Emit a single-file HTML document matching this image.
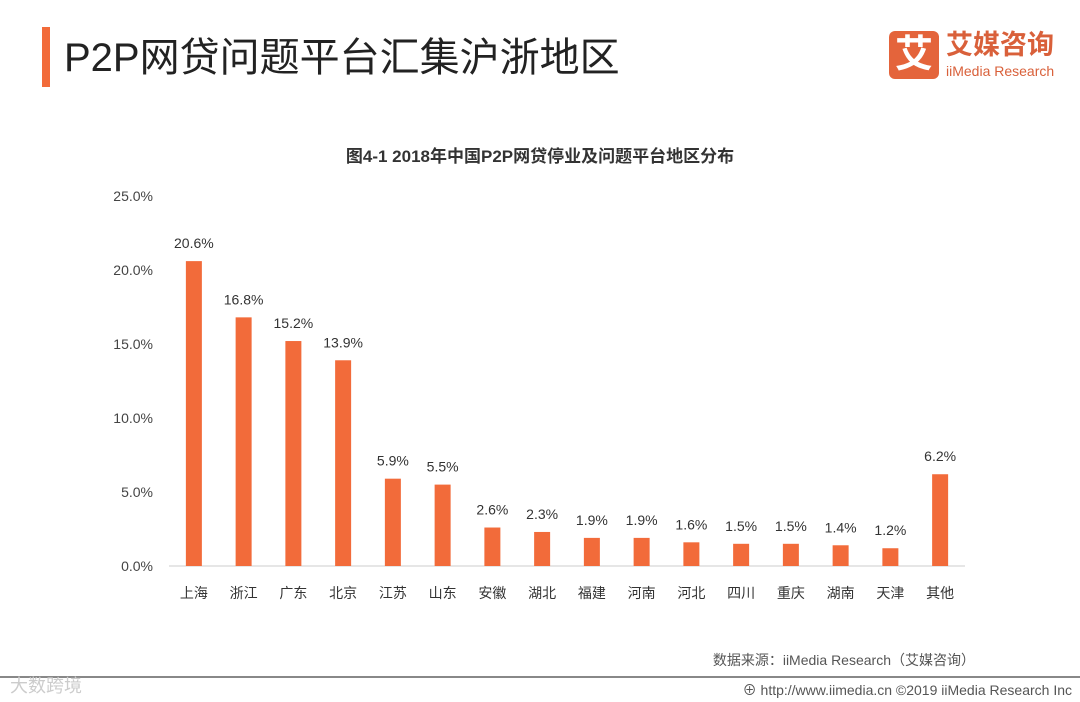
<!DOCTYPE html>
<html><head><meta charset="utf-8"><style>
body{margin:0;width:1080px;height:702px;background:#fff;overflow:hidden;position:relative;font-family:"Liberation Sans","Noto Sans CJK SC",sans-serif}
.abs{position:absolute}
</style></head><body>
<div class="abs" style="left:42px;top:27px;width:8px;height:60px;background:#f26b3a"></div>
<div class="abs" style="left:64px;top:30px;font-size:40px;color:#222;line-height:56px">P2P网贷问题平台汇集沪浙地区</div>
<div class="abs" style="left:889px;top:31px;width:50px;height:48px;background:#e4643b;border-radius:6px;color:#fff;font-size:38px;line-height:48px;text-align:center;font-weight:bold">艾</div>
<div class="abs" style="left:946px;top:28px;font-size:27px;color:#d9603a;font-weight:bold;line-height:34px">艾媒咨询</div>
<div class="abs" style="left:946px;top:62px;font-size:14px;color:#d9603a;line-height:18px">iiMedia Research</div>
<svg class="abs" style="left:0;top:0" width="1080" height="702">
<text x="540" y="162" text-anchor="middle" font-size="17" font-weight="bold" fill="#333">图4-1 2018年中国P2P网贷停业及问题平台地区分布</text>
<g id="g"></g>
<text x="975" y="665" text-anchor="end" font-size="14" fill="#555">数据来源：iiMedia Research（艾媒咨询）</text>
<line x1="0" y1="677" x2="1080" y2="677" stroke="#888" stroke-width="2"/>
<text x="1072" y="695" text-anchor="end" font-size="14" fill="#555">⊕ http://www.iimedia.cn   ©2019  iiMedia Research Inc</text>
<text x="10" y="692" font-size="18" fill="#ccc">大数跨境</text>
</svg>
<script>
const categories=["上海","浙江","广东","北京","江苏","山东","安徽","湖北","福建","河南","河北","四川","重庆","湖南","天津","其他"];
const values=[20.6,16.8,15.2,13.9,5.9,5.5,2.6,2.3,1.9,1.9,1.6,1.5,1.5,1.4,1.2,6.2];
const ticks=[0,5,10,15,20,25];
const ns="http://www.w3.org/2000/svg",g=document.getElementById('g');
const x0=169,x1=965,yb=566,yt=196,ymax=25;
const y=v=>yb-(yb-yt)*v/ymax;
const bw=(x1-x0)/categories.length;
const xc=i=>x0+bw*(i+0.5);
function mk(t,a,txt){const e=document.createElementNS(ns,t);for(const k in a)e.setAttribute(k,a[k]);if(txt!=null)e.textContent=txt;g.appendChild(e);return e;}
ticks.forEach(t=>{
 const e=mk('text',{x:153,y:y(t)+5,'text-anchor':'end','font-size':14,fill:'#444'},t.toFixed(1)+'%');
 
 
});
const ax=mk('line',{x1:x0,x2:x1,y1:yb,y2:yb,stroke:'#ccc','stroke-width':1});


categories.forEach((c,i)=>{
 const r=mk('rect',{x:xc(i)-8,y:y(values[i]),width:16,height:yb-y(values[i]),fill:'#f26b3a'});
 
 
 const l=mk('text',{x:xc(i),y:y(values[i])-13,'text-anchor':'middle','font-size':14,fill:'#333'},values[i].toFixed(1)+'%');
 
 
 const t=mk('text',{x:xc(i),y:598,'text-anchor':'middle','font-size':14,fill:'#333'},c);
 
 
});
</script>
</body></html>
